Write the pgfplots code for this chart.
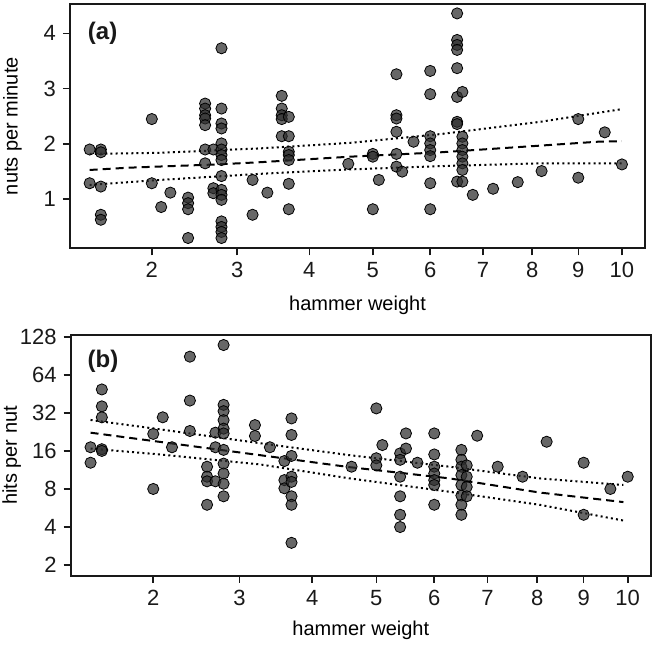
\documentclass[border=0pt]{standalone}
\usepackage{fontspec}
\setmainfont{Liberation Sans}
\usepackage{pgfplots}
\pgfplotsset{compat=1.18}
\usepackage{pgfplotstable}
\definecolor{pt}{RGB}{45,45,45}
\definecolor{ax}{RGB}{25,25,25}

% panel (a): hammer weight, nuts per minute
\pgfplotstableread{
w v
1.4 1.90
1.4 1.29
1.5 1.90
1.5 1.85
1.5 1.23
1.5 0.72
1.5 0.63
2.0 2.45
2.0 1.29
2.1 0.86
2.2 1.12
2.4 1.03
2.4 0.93
2.4 0.82
2.4 0.30
2.6 2.73
2.6 2.64
2.6 2.52
2.6 2.46
2.6 2.34
2.6 1.90
2.6 1.65
2.7 1.90
2.7 1.20
2.7 1.11
2.8 3.73
2.8 2.64
2.8 2.37
2.8 2.28
2.8 2.01
2.8 1.90
2.8 1.80
2.8 1.71
2.8 1.42
2.8 1.17
2.8 1.08
2.8 0.99
2.8 0.60
2.8 0.50
2.8 0.41
2.8 0.30
3.2 1.35
3.2 0.72
3.4 1.12
3.6 2.87
3.6 2.64
3.6 2.52
3.6 2.45
3.6 2.14
3.7 2.49
3.7 2.14
3.7 1.86
3.7 1.80
3.7 1.71
3.7 1.28
3.7 0.82
4.6 1.64
5.0 1.82
5.0 1.77
5.0 0.82
5.1 1.35
5.4 3.26
5.4 2.52
5.4 2.46
5.4 2.22
5.4 1.82
5.4 1.59
5.5 1.50
5.7 2.04
6.0 3.32
6.0 2.90
6.0 2.14
6.0 2.01
6.0 1.89
6.0 1.78
6.0 1.29
6.0 0.82
6.5 4.36
6.5 3.88
6.5 3.79
6.5 3.70
6.5 3.37
6.5 2.85
6.5 2.40
6.5 2.36
6.5 1.32
6.6 2.94
6.6 2.13
6.6 2.01
6.6 1.89
6.6 1.77
6.6 1.65
6.6 1.53
6.6 1.32
6.8 1.08
7.2 1.19
7.7 1.31
8.2 1.51
9.0 2.45
9.0 1.39
9.6 2.21
10.0 1.63
}\dataA

\pgfplotstableread{
w v
1.40 1.53
1.75 1.57
2.74 1.63
3.30 1.67
4.63 1.77
6.20 1.85
8.17 1.97
9.43 2.04
10.0 2.05
}\fitA
\pgfplotstableread{
w v
1.40 1.82
2.09 1.84
3.30 1.92
4.63 2.02
6.20 2.18
8.17 2.40
10.0 2.63
}\upA
\pgfplotstableread{
w v
1.40 1.26
2.09 1.35
3.30 1.46
4.63 1.54
6.20 1.60
8.17 1.65
10.0 1.65
}\loA

% panel (b): hammer weight, hits per nut
\pgfplotstableread{
w v
1.4 17.1
1.4 12.9
1.5 49
1.5 36
1.5 29.5
1.5 16.5
1.5 16
2.0 21.8
2.0 8.0
2.1 29.5
2.2 17.1
2.4 89
2.4 40
2.4 23
2.6 12.0
2.6 10.0
2.6 9.2
2.6 6.0
2.7 22.3
2.7 17.1
2.7 9.2
2.8 110
2.8 37
2.8 33
2.8 28
2.8 24
2.8 22
2.8 16.3
2.8 12.7
2.8 10.6
2.8 8.8
2.8 7.0
3.2 25.6
3.2 21.0
3.4 17.1
3.6 13.3
3.6 9.4
3.6 8.1
3.7 28.9
3.7 21.4
3.7 14.6
3.7 10.0
3.7 9.1
3.7 7.0
3.7 6.0
3.7 3.0
4.6 12.0
5.0 34.7
5.0 14.0
5.0 12.3
5.1 17.8
5.4 15.3
5.4 13.6
5.4 10.0
5.4 7.0
5.4 5.0
5.4 4.0
5.5 22.0
5.5 16.7
5.7 12.9
6.0 22.0
6.0 15.0
6.0 12.0
6.0 10.6
6.0 9.4
6.0 8.6
6.0 6.0
6.5 16.3
6.5 13.6
6.5 12.0
6.5 10.3
6.5 8.6
6.5 7.1
6.5 6.0
6.5 5.0
6.6 12.3
6.6 10.0
6.6 8.3
6.6 7.0
6.8 21.1
7.2 12.0
7.7 10.0
8.2 18.9
9.0 12.9
9.0 5.0
9.6 8.0
10.0 10.0
}\dataB

\pgfplotstableread{
w v
1.40 22.3
3.27 14.8
4.57 11.9
6.28 9.7
8.05 7.5
9.90 6.3
}\fitB
\pgfplotstableread{
w v
1.40 28.1
2.07 23.7
3.27 18.4
4.57 14.8
6.28 12.0
8.05 9.7
9.90 8.6
}\upB
\pgfplotstableread{
w v
1.40 16.7
2.07 15.0
3.27 12.5
4.57 9.7
6.28 7.6
8.05 6.0
9.90 4.5
}\loB

\pgfplotsset{
  panel/.style={
    scale only axis,
    xmin=1.110, xmax=3.248,
    xtick={1.41421,1.73205,2,2.23607,2.44949,2.64575,2.82843,3,3.16228},
    xticklabels={2,3,4,5,6,7,8,9,10},
    xtick pos=bottom, ytick pos=left,
    tick align=outside,
    major tick length=3.5pt,
    tick style={ax, line width=0.8pt},
    axis line style={ax, line width=0.9pt},
    ticklabel style={font=\fontsize{11}{13}\selectfont, text=ax},
    label style={font=\fontsize{11}{13}\selectfont, text=ax},
    xlabel={hammer weight},
    every axis y label/.style={at={(axis description cs:0,0.5)}, anchor=center, rotate=90},
    every axis x label/.style={at={(axis description cs:0.5,0)}, anchor=center},
    clip=false,
  },
  pts/.style={only marks, mark=*, mark size=2.8pt,
    mark options={fill=pt, draw=none, fill opacity=0.72}},
  fitl/.style={black, line width=1pt, dash pattern=on 4pt off 2.5pt},
  cil/.style={black, line width=1pt, dash pattern=on 1pt off 1.6pt},
}

\begin{document}
\begin{tikzpicture}
\useasboundingbox (0,0) rectangle (327.5pt,-324pt);

\begin{axis}[panel,
  at={(35pt,-124.15pt)}, anchor=south west,
  width=287.5pt, height=122.15pt,
  ymin=0.114, ymax=4.53,
  ytick={1,2,3,4}, yticklabels={1,2,3,4},
  ylabel={nuts per minute},
  ylabel style={yshift=28.75pt},
  xlabel style={yshift=-28.4pt},
]
\addplot[pts] table[x expr={sqrt(\thisrow{w})}, y=v] {\dataA};
\addplot[fitl] table[x expr={sqrt(\thisrow{w})}, y=v] {\fitA};
\addplot[cil] table[x expr={sqrt(\thisrow{w})}, y=v] {\upA};
\addplot[cil] table[x expr={sqrt(\thisrow{w})}, y=v] {\loA};
\node[font=\fontsize{12}{14}\selectfont\bfseries, text=ax] at (axis description cs:0.0567,0.880) {(a)};
\end{axis}

\begin{axis}[panel,
  at={(35.35pt,-288pt)}, anchor=south west,
  width=290.15pt, height=120.5pt,
  ymode=log, log basis y=2,
  ymin=1.64, ymax=132,
  ytick={2,4,8,16,32,64,128}, yticklabels={2,4,8,16,32,64,128},
  ylabel={hits per nut},
  ylabel style={yshift=29.5pt},
  xlabel style={yshift=-27pt},
]
\addplot[pts] table[x expr={sqrt(\thisrow{w})}, y=v] {\dataB};
\addplot[fitl] table[x expr={sqrt(\thisrow{w})}, y=v] {\fitB};
\addplot[cil] table[x expr={sqrt(\thisrow{w})}, y=v] {\upB};
\addplot[cil] table[x expr={sqrt(\thisrow{w})}, y=v] {\loB};
\node[font=\fontsize{12}{14}\selectfont\bfseries, text=ax] at (axis description cs:0.0557,0.891) {(b)};
\end{axis}
\end{tikzpicture}
\end{document}
